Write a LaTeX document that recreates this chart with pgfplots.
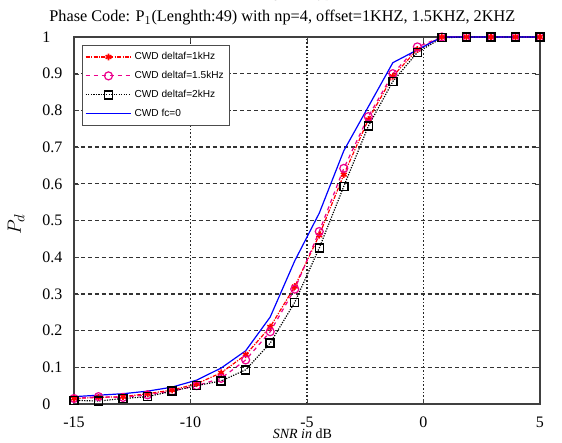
\documentclass[border=0pt]{standalone}
\usepackage{pgfplots}
\pgfplotsset{compat=1.18}
\usepackage{pgfplotstable}
\usepackage{fontspec}
\setmainfont{Liberation Serif}
\newfontfamily\arialfont{Liberation Sans}

\pgfplotstableread{
x        a      b      c      d
-15      0.015  0.015  0.010  0.020
-13.947  0.018  0.020  0.008  0.024
-12.895  0.020  0.018  0.015  0.028
-11.842  0.028  0.025  0.020  0.035
-10.789  0.038  0.035  0.035  0.046
-9.737   0.055  0.050  0.050  0.065
-8.684   0.085  0.070  0.063  0.098
-7.632   0.134  0.120  0.093  0.145
-6.579   0.210  0.197  0.166  0.237
-5.526   0.320  0.313  0.277  0.390
-4.474   0.460  0.470  0.425  0.520
-3.421   0.625  0.642  0.593  0.690
-2.368   0.775  0.783  0.757  0.810
-1.316   0.893  0.900  0.879  0.930
-0.263   0.966  0.973  0.958  0.965
0.789    1.000  1.000  0.998  1.000
1.842    1.000  1.000  1.000  1.000
2.895    1.000  1.000  1.000  1.000
3.947    1.000  1.000  1.000  1.000
5        1.000  1.000  1.000  1.000
}\pddata

\begin{document}
\begin{tikzpicture}
\useasboundingbox (-55.5pt,-29.25pt) rectangle (366pt,303pt);
\begin{axis}[
    scale only axis,
    width=349.5pt, height=275.25pt,
    xmin=-15, xmax=5, ymin=0, ymax=1,
    xtick={-15,-10,-5,0,5},
    ytick={0,0.1,...,1},
    clip=false,
    axis line style={black!75, line width=0.8pt},
    tick align=inside,
    major tick length=4pt,
    tick style={black!75},
    grid=major,
    x grid style={black!85, line width=1pt, dash pattern=on 1.2pt off 1.5pt},
    y grid style={black!80, line width=1pt, dash pattern=on 3pt off 2.2pt},
    /pgf/number format/assume math mode=true,
    ticklabel style={font=\fontsize{12}{14}\selectfont},
    xticklabel style={anchor=center, yshift=-13.5pt},
    yticklabel style={anchor=west, inner sep=0pt, xshift=-24pt},
    xlabel={\textit{SNR in} dB},
    xlabel style={at={(axis description cs:0.49,-0.082)}, anchor=center, font=\fontsize{10.5}{12}\selectfont},
    ylabel={$P_d$},
    ylabel style={at={(axis description cs:-0.1245,0.49)}, anchor=center, font=\fontsize{15}{17}\selectfont},
    legend style={at={(axis description cs:0.017,0.978)}, anchor=north west,
        draw=black!70, line width=0.8pt, font=\arialfont\fontsize{7.6}{9}\selectfont,
        row sep=3.2pt, inner xsep=2pt, inner ysep=3pt},
    legend cell align=left,
    legend image code/.code={
        \draw[mark repeat=2, mark phase=2, line width=0.9pt, #1] plot coordinates {(0cm,0cm) (0.6cm,0cm) (1.2cm,0cm)};
    },
]
\addplot[red, line width=0.9pt, densely dash dot, mark=asterisk, mark size=2.5pt, mark options={solid, line width=1.2pt}] table[x=x, y=a] {\pddata};
\addlegendentry{CWD deltaf=1kHz}
\addplot[magenta, line width=0.9pt, dashed, mark=o, mark size=3pt, mark options={solid}] table[x=x, y=b] {\pddata};
\addlegendentry{CWD deltaf=1.5kHz}
\addplot[black, line width=0.9pt, densely dotted, mark=square, mark size=3pt, mark options={solid, line width=1.1pt}] table[x=x, y=c] {\pddata};
\addlegendentry{CWD deltaf=2kHz}
\addplot[blue, line width=0.9pt] table[x=x, y=d] {\pddata};
\addlegendentry{CWD fc=0}
\node at (axis description cs:0.447,1.0518) {\fontsize{12.2}{14}\selectfont Phase Code: P$_1$(Lenghth:49) with np=4, offset=1KHZ, 1.5KHZ, 2KHZ};
\node at (axis description cs:0.49,1.112) {\fontsize{10.5}{12}\selectfont\textit{SNR in} dB};
\end{axis}
\end{tikzpicture}
\end{document}
